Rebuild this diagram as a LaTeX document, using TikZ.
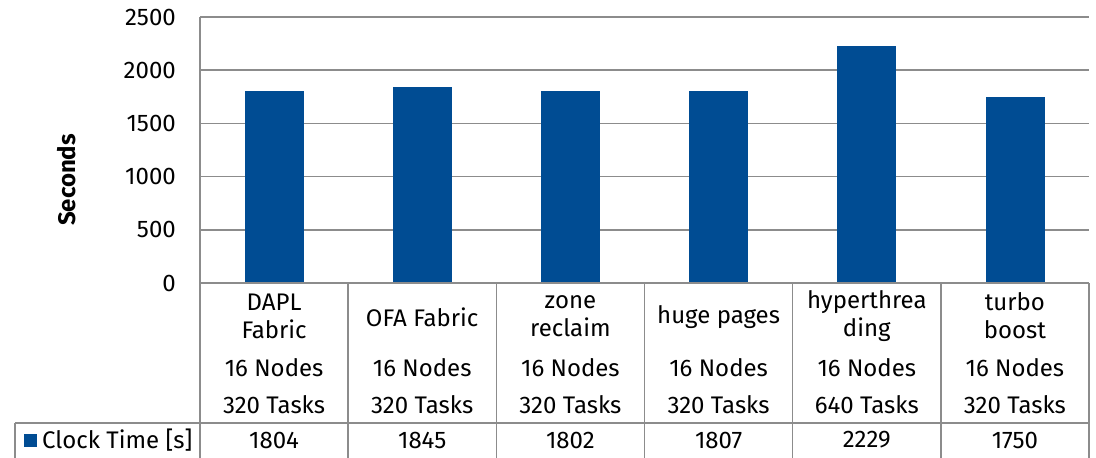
\documentclass[tikz,border=0pt]{standalone}
\usepackage{fontspec}
\setmainfont{Fira Sans}
\definecolor{barblue}{RGB}{0,76,147}
\definecolor{gridgray}{RGB}{140,140,140}

\begin{document}
\begin{tikzpicture}[x=1pt,y=-1pt,
    gridline/.style={draw=gridgray,line width=1.5pt},
    bar/.style={fill=barblue,draw=none},
    txt/.style={font=\fontsize{24}{28}\selectfont,inner sep=0pt,align=center},
    tick/.style={txt,anchor=east}]
        \useasboundingbox (0,0) rectangle (1096,458);
        % \draw[help lines,step=50] (0,0) grid (1096,458);

        % value axis: 0 .. 2500, 500 per 53.2
        \draw[gridline] (200,17) -- (1089,17);
        \draw[gridline] (200,70.2) -- (1089,70.2);
        \draw[gridline] (200,123.4) -- (1089,123.4);
        \draw[gridline] (200,176.6) -- (1089,176.6);
        \draw[gridline] (200,229.8) -- (1089,229.8);
        \draw[gridline] (200,17) -- (200,283);

        \node[tick] at (176,17) (t2500) {2500};
        \node[tick] at (176,70.2) (t2000) {2000};
        \node[tick] at (176,123.4) (t1500) {1500};
        \node[tick] at (176,176.6) (t1000) {1000};
        \node[tick] at (176,229.8) (t500) {500};
        \node[tick] at (176,283) (t0) {0};

        \node[txt,font=\fontsize{24}{28}\selectfont\bfseries,rotate=90] at (67,180) (ylabel) {Seconds};

        % bars, height = value * 266/2500
        \fill[bar] (244.5,91.1) rectangle (303.5,283);
        \fill[bar] (392.7,86.7) rectangle (451.7,283);
        \fill[bar] (540.9,91.3) rectangle (599.9,283);
        \fill[bar] (689.1,90.7) rectangle (748.1,283);
        \fill[bar] (837.3,45.8) rectangle (896.3,283);
        \fill[bar] (985.5,96.8) rectangle (1044.5,283);

        % data table below the axis
        \draw[gridline] (200,283) -- (1089,283);
        \draw[gridline] (15,423) -- (1089,423);
        \draw[gridline] (15,423) -- (15,458);
        \draw[gridline] (200,283) -- (200,458);
        \draw[gridline] (348.2,283) -- (348.2,458);
        \draw[gridline] (496.3,283) -- (496.3,458);
        \draw[gridline] (644.5,283) -- (644.5,458);
        \draw[gridline] (792.7,283) -- (792.7,458);
        \draw[gridline] (940.8,283) -- (940.8,458);
        \draw[gridline] (1089,283) -- (1089,458);

        \node[txt] at (274.1,316) (dapl) {DAPL\\Fabric};
        \node[txt] at (422.2,317) (ofa) {OFA Fabric};
        \node[txt] at (570.4,316) (zone) {zone\\reclaim};
        \node[txt] at (718.6,317) (huge) {huge pages};
        \node[txt] at (866.8,316) (hyper) {hyperthrea\\ding};
        \node[txt] at (1014.9,316) (turbo) {turbo\\boost};

        \node[txt] at (274.1,368) (daplN) {16 Nodes};
        \node[txt] at (422.2,368) (ofaN) {16 Nodes};
        \node[txt] at (570.4,368) (zoneN) {16 Nodes};
        \node[txt] at (718.6,368) (hugeN) {16 Nodes};
        \node[txt] at (866.8,368) (hyperN) {16 Nodes};
        \node[txt] at (1014.9,368) (turboN) {16 Nodes};

        \node[txt] at (274.1,405) (daplT) {320 Tasks};
        \node[txt] at (422.2,405) (ofaT) {320 Tasks};
        \node[txt] at (570.4,405) (zoneT) {320 Tasks};
        \node[txt] at (718.6,405) (hugeT) {320 Tasks};
        \node[txt] at (866.8,405) (hyperT) {640 Tasks};
        \node[txt] at (1014.9,405) (turboT) {320 Tasks};

        \node[bar,minimum size=13,inner sep=0pt] at (30,440.5) (key) {};
        \node[txt,anchor=west] at (42,440) (legend) {Clock Time [s]};

        \node[txt] at (274.1,440) (daplV) {1804};
        \node[txt] at (422.2,440) (ofaV) {1845};
        \node[txt] at (570.4,440) (zoneV) {1802};
        \node[txt] at (718.6,440) (hugeV) {1807};
        \node[txt] at (866.8,440) (hyperV) {2229};
        \node[txt] at (1014.9,440) (turboV) {1750};

    \end{tikzpicture}
\end{document}
